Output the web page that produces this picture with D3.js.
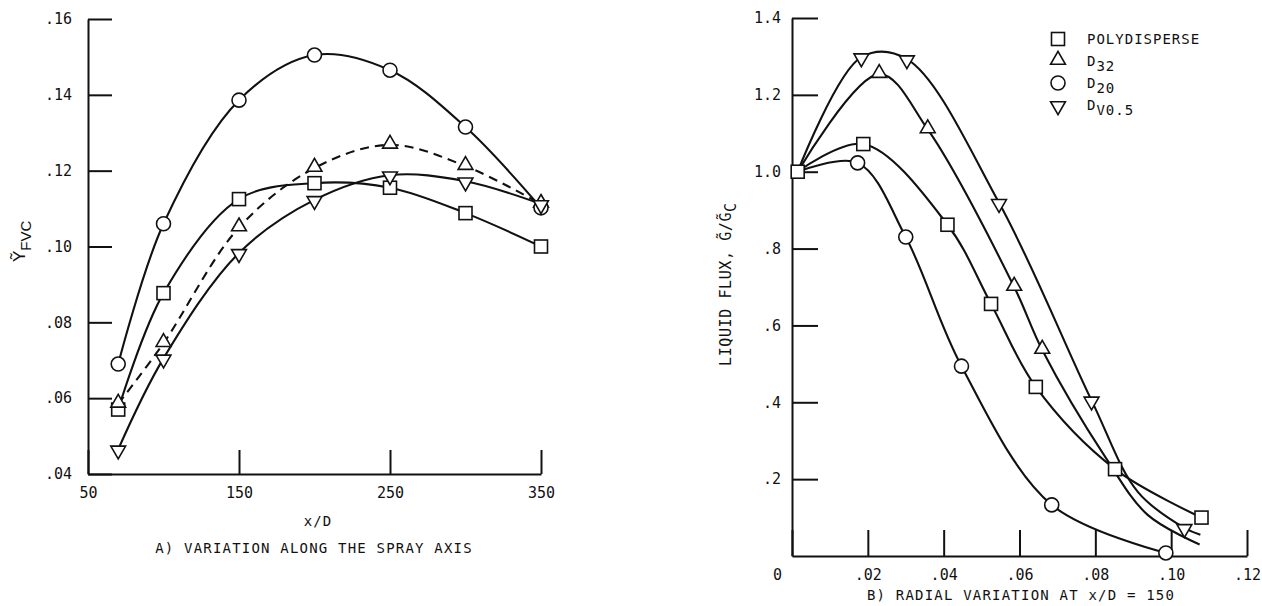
<!DOCTYPE html>
<html>
<head>
<meta charset="utf-8">
<script src="https://cdn.jsdelivr.net/npm/d3@7"></script>
<style>
  body { margin: 0; background: #fff; }
  text { font-family: "DejaVu Sans Mono", monospace; fill: #111; }
  .axis path, .axis line { stroke: #111; stroke-width: 2; }
  .axis text { font-size: 15px; }
  .curve { fill: none; stroke: #111; stroke-width: 2.1; }
  .mark { fill: #fff; stroke: #111; stroke-width: 1.6; }
</style>
</head>
<body>
<div id="chart-area"></div>
<script>
// ---- data: A) variation along the spray axis ----
var xdA = [70, 100, 150, 200, 250, 300, 350];
var polyA = [0.057, 0.0877, 0.1125, 0.1167, 0.1155, 0.1088, 0.100];
var d32A = [0.0585, 0.0745, 0.105, 0.1207, 0.1268, 0.1212, 0.1112];
var d20A = [0.069, 0.106, 0.1386, 0.1505, 0.1465, 0.1315, 0.1102];
var dv05A = [0.0465, 0.0705, 0.0983, 0.1123, 0.1188, 0.1172, 0.1112];
var yTicksA = [0.04, 0.06, 0.08, 0.10, 0.12, 0.14, 0.16];
var xTicksA = [50, 150, 250, 350];

// ---- data: B) radial variation at x/D = 150 ----
var centre = [0.0015, 1.0];   // common starting point of all curves
var polyBx = [0.0188, 0.041, 0.0525, 0.0643, 0.0852, 0.108];
var polyBy = [1.072, 0.862, 0.656, 0.44, 0.226, 0.10];
var d32Bx = [0.023, 0.0358, 0.0586, 0.066];
var d32By = [1.254, 1.11, 0.70, 0.536];
var d32Curve = [[0.0826, 0.258], [0.0938, 0.107], [0.1075, 0.03]];   // curve only, no symbol
var d20Bx = [0.0173, 0.030, 0.0447, 0.0685, 0.0986];
var d20By = [1.023, 0.83, 0.494, 0.133, 0.008];
var dv05Bx = [0.0183, 0.0303, 0.0546, 0.079, 0.1035];
var dv05By = [1.298, 1.293, 0.919, 0.405, 0.073];
var dv05Curve = [[0.0912, 0.167], [0.1077, 0.055]];
var xTicksB = [0, 0.02, 0.04, 0.06, 0.08, 0.10, 0.12];
var yTicksB = [0.2, 0.4, 0.6, 0.8, 1.0, 1.2, 1.4];

var legendNames = [["POLYDISPERSE", ""], ["D", "32"], ["D", "20"], ["D", "V0.5"]];
var legendShapes = ["square", "up", "circle", "down"];

var svg = d3.select("#chart-area").append("svg")
    .attr("width", 1262)
    .attr("height", 606);

var noZero = function(d, f) { return d3.format(f)(d).replace(/^0\./, "."); };

// marker drawing
function marker(g, shape, x, y) {
    if (shape == "square") {
        g.append("rect").attr("class", "mark")
            .attr("x", x - 6.5).attr("y", y - 6.5).attr("width", 13).attr("height", 13);
    } else if (shape == "circle") {
        g.append("circle").attr("class", "mark").attr("cx", x).attr("cy", y).attr("r", 7);
    } else {
        var sym = d3.symbol().type(d3.symbolTriangle).size(95);
        g.append("path").attr("class", "mark").attr("d", sym)
            .attr("transform", "translate(" + x + "," + (shape == "up" ? y - 1 : y + 1) + ")" + (shape == "down" ? " rotate(180)" : ""));
    }
}

// ================= Panel A =================
var xA = d3.scaleLinear().domain([50, 350]).range([88, 541]);
var yA = d3.scaleLinear().domain([0.04, 0.16]).range([474, 19]);

var gA = svg.append("g");
gA.append("g").attr("class", "axis")
    .attr("transform", "translate(0,474)")
    .call(d3.axisBottom(xA).tickValues(xTicksA).tickSize(-24).tickSizeOuter(0).tickPadding(10).tickFormat(d3.format("d")))
    .call(g => g.selectAll("text").attr("dy", "0.9em"));
gA.append("g").attr("class", "axis")
    .attr("transform", "translate(88,0)")
    .call(d3.axisLeft(yA).tickValues(yTicksA).tickSize(-24).tickSizeOuter(0).tickPadding(16).tickFormat(d => noZero(d, ".2f")));

var lineA = d3.line().curve(d3.curveCatmullRom.alpha(0.5))
    .x(d => xA(d[0])).y(d => yA(d[1]));

var seriesA = [
    {vals: polyA, shape: "square", dash: null},
    {vals: d32A, shape: "up", dash: "9,6"},
    {vals: d20A, shape: "circle", dash: null},
    {vals: dv05A, shape: "down", dash: null}
];
seriesA.forEach(function(s) {
    var pts = xdA.map((x, i) => [x, s.vals[i]]);
    gA.append("path").attr("class", "curve").attr("d", lineA(pts))
        .attr("stroke-dasharray", s.dash);
});
seriesA.forEach(function(s) {
    xdA.forEach((x, i) => marker(gA, s.shape, xA(x), yA(s.vals[i])));
});

gA.append("text").attr("x", 318).attr("y", 526).attr("text-anchor", "middle")
    .style("font-size", "14px").style("letter-spacing", "1px").text("x/D");
gA.append("text").attr("x", 314).attr("y", 553).attr("text-anchor", "middle")
    .style("font-size", "14px").style("letter-spacing", "1.2px").text("A) VARIATION ALONG THE SPRAY AXIS");

var ylabA = gA.append("text").attr("transform", "translate(25,262) rotate(-90)")
    .style("font-family", "'Liberation Sans', sans-serif").style("font-size", "17px");
ylabA.append("tspan").text("\u1EF8");
ylabA.append("tspan").attr("dy", 6).style("font-size", "15px").text("FVC");

// ================= Panel B =================
var xB = d3.scaleLinear().domain([0, 0.12]).range([792, 1247]);
var yB = d3.scaleLinear().domain([0, 1.4]).range([556, 18]);

var gB = svg.append("g");
gB.append("g").attr("class", "axis")
    .attr("transform", "translate(0,556)")
    .call(d3.axisBottom(xB).tickValues(xTicksB).tickSize(-26).tickSizeOuter(0).tickPadding(10)
        .tickFormat(d => d == 0 ? "0" : noZero(d, ".2f")))
    .call(g => g.selectAll("text").attr("dy", "0.9em"))
    .call(g => g.selectAll(".tick").filter(d => d == 0).select("text").attr("x", -15));
gB.append("g").attr("class", "axis")
    .attr("transform", "translate(792,0)")
    .call(d3.axisLeft(yB).tickValues(yTicksB).tickSize(-26).tickSizeOuter(0).tickPadding(11)
        .tickFormat(d => d >= 1 ? d3.format(".1f")(d) : noZero(d, ".1f")));

var lineB = d3.line().curve(d3.curveCatmullRom.alpha(0.5))
    .x(d => xB(d[0])).y(d => yB(d[1]));

var seriesB = [
    {xs: polyBx, ys: polyBy, extra: [], shape: "square"},
    {xs: d32Bx, ys: d32By, extra: d32Curve, shape: "up"},
    {xs: d20Bx, ys: d20By, extra: [], shape: "circle"},
    {xs: dv05Bx, ys: dv05By, extra: dv05Curve, shape: "down"}
];
seriesB.forEach(function(s) {
    var pts = [centre].concat(s.xs.map((x, i) => [x, s.ys[i]]), s.extra)
        .sort((a, b) => a[0] - b[0]);
    gB.append("path").attr("class", "curve").attr("d", lineB(pts));
});
marker(gB, "square", xB(centre[0]), yB(centre[1]));
seriesB.forEach(function(s) {
    s.xs.forEach((x, i) => marker(gB, s.shape, xB(x), yB(s.ys[i])));
});

gB.append("text").attr("x", 1021).attr("y", 600).attr("text-anchor", "middle")
    .style("font-size", "14px").style("letter-spacing", "1.2px").text("B) RADIAL VARIATION AT x/D = 150");

var ylabB = gB.append("text").attr("transform", "translate(731,366) rotate(-90)")
    .style("font-size", "15px").style("letter-spacing", "0.6px");
ylabB.append("tspan").text("LIQUID FLUX, G\u0303/G\u0303");
ylabB.append("tspan").attr("dy", 5).text("C");

// legend
var leg = gB.append("g");
legendNames.forEach(function(n, i) {
    var y = 39 + i * 22;
    marker(leg, legendShapes[i], 1058, y);
    var t = leg.append("text").attr("x", 1087).attr("y", y + 5)
        .style("font-size", "14px").style("letter-spacing", "1px");
    t.append("tspan").text(n[0]);
    if (n[1]) t.append("tspan").attr("dy", 5).text(n[1]);
});
</script>
</body>
</html>
